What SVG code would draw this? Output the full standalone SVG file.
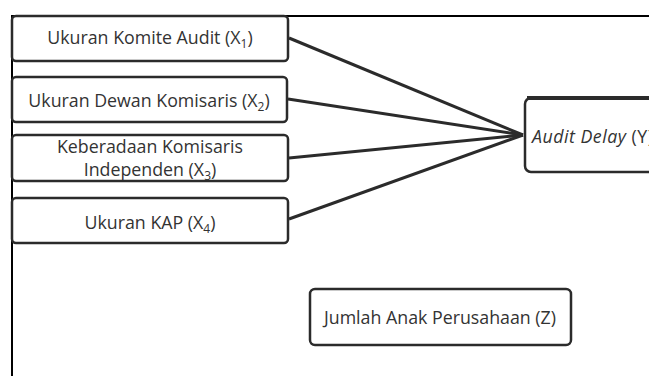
<svg xmlns="http://www.w3.org/2000/svg" width="649" height="376" viewBox="0 0 649 376">
<style>
.box{fill:#fff;stroke:#2b2b2b;stroke-width:2.5}
.t{font-family:"Open Sans","Noto Sans",sans-serif;font-size:17.8px;fill:#333;text-anchor:middle}
.s{font-size:12px}
.conn{stroke:#2b2b2b;stroke-width:3;fill:none}
</style>
<rect width="649" height="376" fill="#fff"/>
<g id="frame"><path d="M12,376 V16 H649" fill="none" stroke="#000" stroke-width="2"/></g>
<g id="connectors">
<line class="conn" x1="289" y1="38" x2="523" y2="135"/>
<line class="conn" x1="288" y1="99" x2="523" y2="135"/>
<line class="conn" x1="289" y1="158" x2="523" y2="135"/>
<line class="conn" x1="289" y1="219" x2="523" y2="135"/>
</g>
<g id="x1"><rect class="box" x="12" y="16" width="276" height="45" rx="4"/>
<text class="t" x="150" y="44">Ukuran Komite Audit (X<tspan class="s" dy="4">1</tspan><tspan dy="-4">)</tspan></text></g>
<g id="x2"><rect class="box" x="12" y="77" width="275" height="45" rx="4"/>
<text class="t" x="149" y="107">Ukuran Dewan Komisaris (X<tspan class="s" dy="4">2</tspan><tspan dy="-4">)</tspan></text></g>
<g id="x3"><rect class="box" x="12" y="135" width="276" height="46" rx="4"/>
<text class="t" x="150" y="153">Keberadaan Komisaris</text>
<text class="t" x="150" y="176">Independen (X<tspan class="s" dy="4">3</tspan><tspan dy="-4">)</tspan></text></g>
<g id="x4"><rect class="box" x="12" y="198" width="276" height="45" rx="4"/>
<text class="t" x="150" y="229">Ukuran KAP (X<tspan class="s" dy="4">4</tspan><tspan dy="-4">)</tspan></text></g>
<g id="y"><rect class="box" x="525" y="98" width="140" height="74" rx="6" stroke-width="3"/>
<line x1="527" y1="98" x2="649" y2="98" stroke="#2b2b2b" stroke-width="4"/>
<text class="t" x="532" y="143" style="text-anchor:start;letter-spacing:0.5px"><tspan font-style="italic">Audit Delay</tspan> (Y)</text></g>
<g id="z"><rect class="box" x="310" y="289" width="261" height="56" rx="5"/>
<text class="t" x="440" y="324">Jumlah Anak Perusahaan (Z)</text></g>
</svg>
